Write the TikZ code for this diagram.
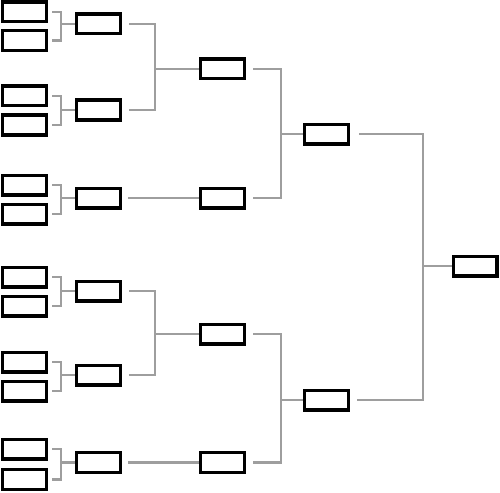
\documentclass[tikz,border=0pt]{standalone}
\usetikzlibrary{calc}

\tikzset{
  slot/.style={draw=black, line width=3.4pt, fill=white, minimum width=43.6pt, minimum height=19.6pt, inner sep=0pt},
  wire/.style={draw=black!38, line width=2.8pt}
}

\begin{document}
\begin{tikzpicture}[x=1pt,y=-1pt]
\useasboundingbox[fill=white] (0,0) rectangle (500,492);
% Round 1: twelve entry slots
\node[slot] (a1) at (24.5,12) {};
\node[slot] (a2) at (24.5,40.5) {};
\node[slot] (a3) at (24.5,96) {};
\node[slot] (a4) at (24.5,125) {};
\node[slot] (a5) at (24.5,185) {};
\node[slot] (a6) at (24.5,214) {};
\node[slot] (a7) at (24.5,277) {};
\node[slot] (a8) at (24.5,306) {};
\node[slot] (a9) at (24.5,362) {};
\node[slot] (a10) at (24.5,391) {};
\node[slot] (a11) at (24.5,449) {};
\node[slot] (a12) at (24.5,479.5) {};
% Round 2
\node[slot] (b1) at (98.5,24) {};
\node[slot] (b2) at (98.5,110) {};
\node[slot] (b3) at (98.5,198) {};
\node[slot] (b4) at (98.5,291) {};
\node[slot] (b5) at (98.5,375) {};
\node[slot] (b6) at (98.5,462.5) {};
% Round 3
\node[slot] (c1) at (222.5,69) {};
\node[slot] (c2) at (222.5,198) {};
\node[slot] (c3) at (222.5,334) {};
\node[slot] (c4) at (222.5,462.5) {};
% Round 4
\node[slot] (d1) at (326.5,134) {};
\node[slot] (d2) at (326.5,400) {};
% Final
\node[slot] (e1) at (475,266) {};
% Joints of the brackets
\coordinate (j1) at (61,24);
\coordinate (j2) at (61,110);
\coordinate (j3) at (61,198);
\coordinate (j4) at (61,291);
\coordinate (j5) at (61,375);
\coordinate (j6) at (61,462.5);
\coordinate (k1) at (155,69);
\coordinate (k2) at (155,334);
\coordinate (m1) at (281,134);
\coordinate (m2) at (281,400);
\coordinate (n1) at (423,266);
% Round 1 -> round 2
\draw[wire] ([xshift=4pt]a1.east) -| (j1) |- ([xshift=4pt]a2.east);
\draw[wire] (j1) -- (b1.west);
\draw[wire] ([xshift=4pt]a3.east) -| (j2) |- ([xshift=4pt]a4.east);
\draw[wire] (j2) -- (b2.west);
\draw[wire] ([xshift=4pt]a5.east) -| (j3) |- ([xshift=4pt]a6.east);
\draw[wire] (j3) -- (b3.west);
\draw[wire] ([xshift=4pt]a7.east) -| (j4) |- ([xshift=4pt]a8.east);
\draw[wire] (j4) -- (b4.west);
\draw[wire] ([xshift=4pt]a9.east) -| (j5) |- ([xshift=4pt]a10.east);
\draw[wire] (j5) -- (b5.west);
\draw[wire] ([xshift=4pt]a11.east) -| (j6) |- ([xshift=4pt]a12.east);
\draw[wire] (j6) -- (b6.west);
% Round 2 -> round 3
\draw[wire] ([xshift=7pt]b1.east) -| (k1) |- ([xshift=7pt]b2.east);
\draw[wire] (k1) -- (c1.west);
\draw[wire] ([xshift=6pt]b3.east) -- (c2.west);
\draw[wire] ([xshift=7pt]b4.east) -| (k2) |- ([xshift=7pt]b5.east);
\draw[wire] (k2) -- (c3.west);
\draw[wire] ([xshift=6pt]b6.east) -- (c4.west);
% Round 3 -> round 4
\draw[wire] ([xshift=7pt]c1.east) -| (m1) |- ([xshift=7pt]c2.east);
\draw[wire] (m1) -- (d1.west);
\draw[wire] ([xshift=7pt]c3.east) -| (m2) |- ([xshift=7pt]c4.east);
\draw[wire] (m2) -- (d2.west);
% Round 4 -> final
\draw[wire] ([xshift=9pt]d1.east) -| (n1) |- ([xshift=7pt]d2.east);
\draw[wire] (n1) -- (e1.west);
\end{tikzpicture}
\end{document}
